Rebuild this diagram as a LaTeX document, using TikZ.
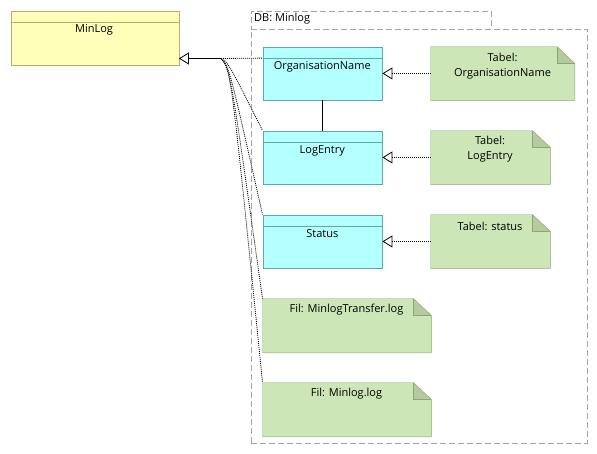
\documentclass[tikz,border=0pt]{standalone}
\usepackage{fontspec}
\setmainfont{Open Sans}
\usetikzlibrary{arrows.meta}
\definecolor{clsfill}{RGB}{180,255,255}
\definecolor{clsline}{RGB}{95,168,168}
\definecolor{minfill}{RGB}{255,255,185}
\definecolor{minline}{RGB}{182,175,115}
\definecolor{notefill}{RGB}{205,230,183}
\definecolor{noteline}{RGB}{140,165,115}
\definecolor{notefold}{RGB}{182,202,160}
\definecolor{pkgline}{RGB}{165,165,165}
\tikzset{
  box/.style={rectangle, inner sep=0pt, anchor=north west},
  clsbox/.style={box, draw=clsline, fill=clsfill},
  minbox/.style={box, draw=minline, fill=minfill},
  notebase/.style={box},
  txt/.style={inner sep=0pt, font=\fontsize{11}{15}\selectfont, align=center},
  dep/.style={draw=black, dash pattern=on 1pt off 1pt, line width=0.8pt},
  gen/.style={-{Triangle[open,length=10pt,width=12pt]}},
  pkgstyle/.style={draw=pkgline, dash pattern=on 6pt off 3pt, line width=0.8pt},
}
\newcommand\umlnote[1]{%
  \fill[notefill] (#1.north west) -- ([xshift=-18pt]#1.north east) -- ([yshift=-17pt]#1.north east) -- (#1.south east) -- (#1.south west) -- cycle;
  \fill[notefold] ([xshift=-18pt]#1.north east) -- ([xshift=-18pt,yshift=-17pt]#1.north east) -- ([yshift=-17pt]#1.north east) -- cycle;
  \draw[noteline] (#1.north west) -- ([xshift=-18pt]#1.north east) -- ([yshift=-17pt]#1.north east) -- (#1.south east) -- (#1.south west) -- cycle;
  \draw[noteline] ([xshift=-18pt]#1.north east) -- ([xshift=-18pt,yshift=-17pt]#1.north east) -- ([yshift=-17pt]#1.north east);
}
\newcommand\clshead[1]{%
  \draw[clsline] ([yshift=-11.6pt]#1.north west) -- ([yshift=-11.6pt]#1.north east);
}
\begin{document}
\begin{tikzpicture}[x=1pt,y=-1pt]
\useasboundingbox (0,0) rectangle (597,453);
% package
\node[box, pkgstyle, minimum width=240pt, minimum height=18pt] (pkgtab) at (250.5,10.5) {};
\node[box, pkgstyle, minimum width=336pt, minimum height=414pt] (pkg) at (250.5,28.5) {};
\node[txt, anchor=west] (pkgT) at (254,19) {DB: Minlog};
% MinLog
\node[minbox, minimum width=168pt, minimum height=54pt] (minlog) at (10.5,10.5) {};
\draw[minline] ([yshift=-12pt]minlog.north west) -- ([yshift=-12pt]minlog.north east);
\node[txt] (minlogT) at (94,30) {MinLog};
% classes
\node[clsbox, minimum width=119.5pt, minimum height=53.5pt] (org) at (262.5,46.5) {};
\clshead{org}
\node[txt] (orgT) at (322.3,66.5) {OrganisationName};
\node[clsbox, minimum width=119.5pt, minimum height=53.5pt] (log) at (262.5,130.5) {};
\clshead{log}
\node[txt] (logT) at (322.3,150.5) {LogEntry};
\node[clsbox, minimum width=119.5pt, minimum height=53.5pt] (st) at (262.5,214.5) {};
\clshead{st}
\node[txt] (stT) at (322.3,234) {Status};
% notes
\node[notebase, minimum width=144pt, minimum height=53.5pt] (nOrg) at (430.5,46.5) {};
\umlnote{nOrg}
\node[txt] (nOrgT) at (502.5,66) {Tabel:\\OrganisationName};
\node[notebase, minimum width=119.5pt, minimum height=53.5pt] (nLog) at (430.5,130.5) {};
\umlnote{nLog}
\node[txt] (nLogT) at (490,149.5) {Tabel:\\LogEntry};
\node[notebase, minimum width=119.5pt, minimum height=53.5pt] (nSt) at (430.5,214.5) {};
\umlnote{nSt}
\node[txt] (nStT) at (490,226) {Tabel: status};
\node[notebase, minimum width=168.5pt, minimum height=54pt] (fTr) at (262.5,298.5) {};
\umlnote{fTr}
\node[txt] (fTrT) at (346.5,309.5) {Fil: MinlogTransfer.log};
\node[notebase, minimum width=168.5pt, minimum height=54pt] (fMl) at (262.5,382.5) {};
\umlnote{fMl}
\node[txt] (fMlT) at (346.5,394) {Fil: Minlog.log};
% association
\draw[black, line width=0.8pt] (org.south) -- (log.north);
% realizations
\draw[dep, gen] (nOrg.west) -- (org.east);
\draw[dep, gen] (nLog.west) -- (log.east);
\draw[dep, gen] (nSt.west) -- (st.east);
% generalization fan
\coordinate (fan) at (221,58.5);
\draw[black, line width=0.8pt, gen] (fan) -- (minlog.east |- fan);
\draw[dep] (fan) -- ([yshift=-11.6pt]org.north west);
\draw[dep] (fan) .. controls (228,62) .. (log.north west);
\draw[dep] (fan) .. controls (229,66) .. (st.north west);
\draw[dep] (fan) .. controls (230,68) .. (fTr.north west);
\draw[dep] (fan) .. controls (231,70) .. (fMl.north west);
\end{tikzpicture}
\end{document}
